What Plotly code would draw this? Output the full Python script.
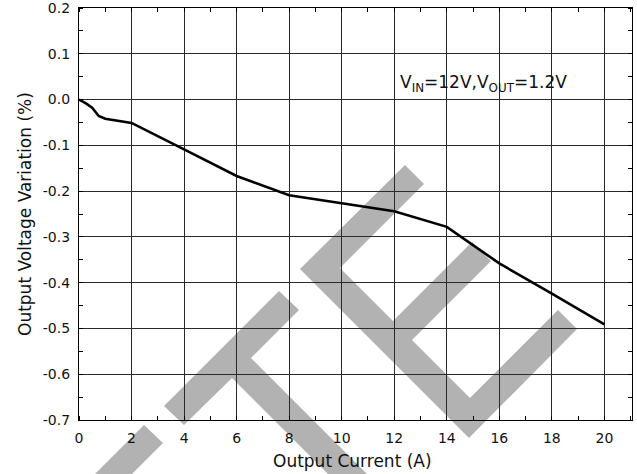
import plotly.graph_objects as go

# Load regulation: output voltage deviation vs. load current
current_a = [0, 0.25, 0.5, 0.75, 1, 2, 4, 6, 8, 10, 12, 14, 16, 18, 20]
variation_pct = [0.0, -0.008, -0.018, -0.036, -0.042, -0.051, -0.109, -0.167,
                 -0.209, -0.227, -0.244, -0.278, -0.358, -0.424, -0.491]

x_ticks = [0, 2, 4, 6, 8, 10, 12, 14, 16, 18, 20]
y_ticks = [0.2, 0.1, 0.0, -0.1, -0.2, -0.3, -0.4, -0.5, -0.6, -0.7]
y_tick_text = ["0.2", "0.1", "0.0", "-0.1", "-0.2", "-0.3", "-0.4", "-0.5", "-0.6", "-0.7"]

condition_label = "V<sub>IN</sub>=12V,V<sub>OUT</sub>=1.2V"
x_title = "Output Current (A)"
y_title = "Output Voltage Variation (%)"

# Page / plot-area geometry (pixels)
W, H = 637, 474
L, R, T, B = 79, 632, 8, 420
FONT = "DejaVu Sans"


def fx(px):
    return (px - L) / (R - L)


def fy(py):
    return (B - py) / (B - T)


def path(points):
    pts = [f"{fx(x):.5f},{fy(y):.5f}" for x, y in points]
    return "M " + " L ".join(pts) + " Z"


# Grey diagonal "TE" watermark behind the grid
watermark = [
    [(144, 425), (163, 443), (83, 523), (64, 505)],
    [(164, 406), (279, 291), (299, 310), (251, 358), (401, 508),
     (382, 528), (232, 378), (184, 425)],
    [(300, 269), (405, 165), (424, 184), (340, 268), (393, 321),
     (472, 242), (491, 261), (412, 340), (470, 398), (558, 310),
     (577, 329), (469, 438)],
]

fig = go.Figure()
fig.add_trace(go.Scatter(
    x=current_a, y=variation_pct, mode="lines",
    line=dict(color="black", width=2.6),
    showlegend=False, hoverinfo="skip",
))

shapes = []
for poly in watermark:
    shapes.append(dict(type="path", xref="paper", yref="paper", path=path(poly),
                       fillcolor="#b2b2b2", line=dict(width=0), layer="below"))
# white box behind the operating-condition label
shapes.append(dict(type="rect", xref="paper", yref="paper",
                   x0=fx(388), x1=fx(578), y0=fy(98), y1=fy(63),
                   fillcolor="white", line=dict(width=0), layer="between"))

axis_common = dict(
    showline=True, linecolor="black", linewidth=1.2, mirror="allticks",
    showgrid=True, gridcolor="#2a2a2a", gridwidth=1,
    zeroline=False, ticks="", ticklabelstandoff=5, ticklabeloverflow="allow",
    tickfont=dict(family=FONT, size=14, color="#111"),
)

fig.update_xaxes(
    range=[0, 21.05], tickmode="array", tickvals=x_ticks,
    minor=dict(ticks="inside", ticklen=4, dtick=1, tick0=0,
               tickcolor="black", showgrid=False),
    **axis_common,
)
fig.update_yaxes(
    range=[-0.7, 0.2], tickmode="array", tickvals=y_ticks, ticktext=y_tick_text,
    minor=dict(ticks="inside", ticklen=4, dtick=0.05, tick0=0,
               tickcolor="black", showgrid=False),
    **axis_common,
)

fig.update_layout(
    width=W, height=H,
    margin=dict(l=L, r=W - R, t=T, b=H - B, autoexpand=False),
    paper_bgcolor="white", plot_bgcolor="white",
    shapes=shapes,
    annotations=[
        dict(text=condition_label, xref="paper", yref="paper",
             x=fx(483), y=fy(83), xanchor="center", yanchor="middle",
             showarrow=False, font=dict(family=FONT, size=17, color="#111")),
        dict(text=x_title, xref="paper", yref="paper",
             x=fx(352.5), y=fy(461), xanchor="center", yanchor="middle",
             showarrow=False, font=dict(family=FONT, size=17, color="#111")),
        dict(text=y_title, xref="paper", yref="paper", textangle=-90,
             x=fx(25), y=fy(214), xanchor="center", yanchor="middle",
             showarrow=False, font=dict(family=FONT, size=17, color="#111")),
    ],
)

fig.write_html("out.html")
